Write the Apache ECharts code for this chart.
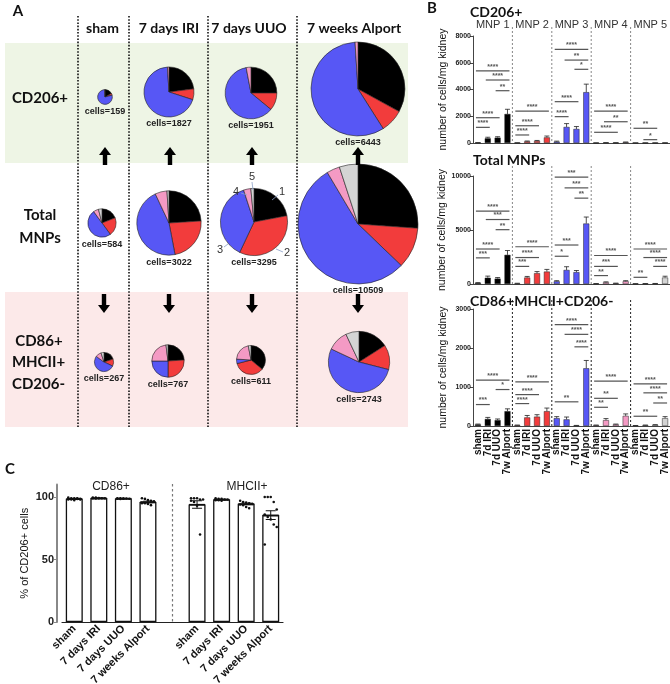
<!DOCTYPE html>
<html><head><meta charset="utf-8">
<script src="https://cdn.jsdelivr.net/npm/echarts@6/dist/echarts.min.js"></script>
<style>html,body{margin:0;padding:0;background:#fff}#c{width:670px;height:684px}</style>
</head><body><div id="c"></div>
<script>
// ---------- Panel A data ----------
const groupsA = ['sham', '7 days IRI', '7 days UUO', '7 weeks Alport'];
const mnpNames = ['MNP 1', 'MNP 2', 'MNP 3', 'MNP 4', 'MNP 5'];
const cellsCD206 = [159, 1827, 1951, 6443];
const cellsTotal = [584, 3022, 3295, 10509];
const cellsCD86 = [267, 767, 611, 2743];
// slice shares (%) MNP1..MNP5 per group
const shareCD206 = [[17, 4, 78, 1, 0], [23, 7, 69, 1, 0], [25, 11, 61, 3, 0], [33, 8, 58, 1, 0]];
const shareTotal = [[19, 21, 50, 6, 4], [24, 23, 46, 6, 1], [22, 35, 38, 3.5, 1.5], [26, 11, 54, 3.5, 5]];
const shareCD86 = [[20, 12, 53, 10, 5], [24, 26, 25, 23, 2], [36, 35, 5, 21, 3], [16, 13, 53, 11, 7]];

// ---------- Panel B data ----------
const catsB = ['sham', '7d IRI', '7d UUO', '7w Alport'];
const cd206Mean = [[20, 350, 400, 2170], [10, 120, 150, 420], [100, 1200, 1050, 3800], [5, 20, 15, 60], [3, 5, 3, 8]];
const cd206Sem = [[10, 80, 70, 350], [5, 30, 40, 100], [40, 250, 180, 600], [3, 5, 5, 15], [2, 2, 2, 3]];
const totalMean = [[100, 580, 500, 2700], [50, 600, 1000, 1150], [250, 1300, 1100, 5600], [30, 150, 60, 250], [20, 30, 40, 600]];
const totalSem = [[30, 150, 100, 400], [20, 100, 150, 200], [60, 300, 150, 600], [10, 50, 20, 60], [10, 10, 10, 120]];
const cd86Mean = [[40, 180, 150, 380], [20, 220, 240, 380], [200, 170, 10, 1480], [20, 150, 40, 260], [10, 20, 30, 200]];
const cd86Sem = [[10, 40, 30, 60], [5, 50, 50, 80], [40, 60, 5, 200], [5, 40, 10, 50], [3, 5, 5, 40]];
// significance: [mnp, fromCat, toCat, y value, label]
const sigCD206 = [
  [0, 0, 3, 5400, '****'], [0, 1, 3, 4710, '****'], [0, 2, 3, 3910, '**'], [0, 0, 2, 1890, '****'], [0, 0, 1, 1170, '****'],
  [1, 0, 3, 2390, '****'], [1, 0, 2, 1290, '****'], [1, 0, 1, 600, '****'],
  [2, 0, 3, 7000, '****'], [2, 1, 3, 6200, '**'], [2, 2, 3, 5510, '*'], [2, 0, 2, 3090, '****'], [2, 0, 1, 1970, '****'],
  [3, 0, 3, 2390, '****'], [3, 1, 3, 1590, '**'], [3, 0, 2, 800, '****'],
  [4, 0, 2, 1100, '**'], [4, 1, 2, 250, '*']
];
const sigTotal = [
  [0, 0, 3, 6750, '****'], [0, 1, 3, 5970, '***'], [0, 2, 3, 5030, '**'], [0, 0, 2, 3240, '****'], [0, 0, 1, 2420, '***'],
  [1, 0, 3, 3450, '****'], [1, 0, 2, 2450, '****'], [1, 0, 1, 1630, '***'],
  [2, 0, 3, 9900, '***'], [2, 1, 3, 8900, '***'], [2, 2, 3, 7950, '**'], [2, 0, 2, 3610, '***'], [2, 0, 1, 2570, '*'],
  [3, 0, 3, 2640, '****'], [3, 0, 2, 1630, '***'], [3, 0, 1, 780, '**'],
  [4, 0, 3, 3240, '****'], [4, 1, 3, 2450, '****'], [4, 2, 3, 1630, '****'], [4, 0, 1, 620, '**']
];
const sigCD86 = [
  [0, 0, 3, 1175, '****'], [0, 2, 3, 935, '*'], [0, 0, 1, 550, '***'],
  [1, 0, 3, 1130, '****'], [1, 0, 2, 805, '****'], [1, 0, 1, 575, '****'],
  [2, 0, 3, 2600, '****'], [2, 1, 3, 2350, '****'], [2, 2, 3, 2030, '****'], [2, 0, 2, 620, '**'],
  [3, 0, 3, 1150, '****'], [3, 0, 2, 710, '**'], [3, 0, 1, 480, '**'],
  [4, 0, 3, 1080, '****'], [4, 1, 3, 850, '****'], [4, 2, 3, 590, '**'], [4, 0, 2, 250, '**']
];

// ---------- Panel C data ----------
const catsC = ['sham', '7 days IRI', '7 days UUO', '7 weeks Alport', '', 'sham', '7 days IRI', '7 days UUO', '7 weeks Alport'];
const cd86Pct = [98.6, 99.1, 98.8, 96.0];
const cd86PctSem = [0.3, 0.1, 0.1, 0.6];
const mhcPct = [94.0, 98.0, 94.5, 85.5];
const mhcPctSem = [3.0, 0.3, 0.6, 3.5];
const cd86Dots = [
  [99.5, 99, 99, 98.5, 98.5, 98, 98, 97.5, 99, 98],
  [99.5, 99.5, 99, 99, 99, 99, 98.8, 99.2],
  [99, 99, 98.8, 98.8, 98.6, 98.6, 98.5, 98.7],
  [99, 98.5, 97.5, 97, 96, 95.5, 95, 94.5, 93.5, 96.5, 95]
];
const mhcDots = [
  [99, 99, 99, 98, 98, 97, 96, 93, 70],
  [99, 98.5, 98.5, 98, 98, 97.5, 97.5, 97],
  [97, 96, 95.5, 95, 94.5, 94, 93.5, 92, 91],
  [100, 100, 100, 96, 90, 86, 84, 82, 78, 76, 62]
];

// ---------- styling ----------
const colorsMNP = ['#000000', '#f23c3c', '#5757f5', '#f49ac4', '#d4d4d4'];
const SANS = 'Liberation Sans, Arial, sans-serif';
const HEAD = 'Lato, Noto Sans, sans-serif';

const chart = echarts.init(document.getElementById('c'), null, {renderer: 'canvas', width: 670, height: 684});

const series = [];
const graphics = [];

// ----- Panel A layout -----
graphics.push({type: 'rect', shape: {x: 5, y: 43, width: 403, height: 120}, style: {fill: '#eef5e5'}, z: -10, silent: true});
graphics.push({type: 'rect', shape: {x: 5, y: 292, width: 403, height: 135}, style: {fill: '#fce9e9'}, z: -10, silent: true});
[78, 129, 208, 297].forEach(x => graphics.push({type: 'line', shape: {x1: x, y1: 16, x2: x, y2: 427},
  style: {stroke: '#111', lineWidth: 1.6, lineDash: [1.6, 1.6]}, z: 1, silent: true}));
const headX = [102.5, 169, 249, 354];
groupsA.forEach((t, i) => graphics.push({type: 'text', x: headX[i], y: 28, style: {text: t, font: 'bold 14px ' + HEAD, fill: '#111', align: 'center', verticalAlign: 'middle'}, z: 10}));
graphics.push({type: 'text', x: 18, y: 11, style: {text: 'A', font: 'bold 15px ' + HEAD, fill: '#111', align: 'center', verticalAlign: 'middle'}, z: 10});
const rowLab = [['CD206+', 40, 98], ['Total', 40, 215], ['MNPs', 40, 238.5], ['CD86+', 39, 341], ['MHCII+', 38.5, 362], ['CD206-', 38.5, 384]];
rowLab.forEach(r => graphics.push({type: 'text', x: r[1], y: r[2], style: {text: r[0], font: 'bold 15px ' + HEAD, fill: '#111', align: 'center', verticalAlign: 'middle'}, z: 10}));

const pieCx = [[105, 169, 251, 358], [102, 169, 254, 358], [104, 168, 251, 359]];
const pieCy = [[97, 92, 93, 89], [223, 223, 222, 224], [362, 361, 360, 362]];
const rowsCells = [cellsCD206, cellsTotal, cellsCD86];
const rowsShare = [shareCD206, shareTotal, shareCD86];
rowsCells.forEach((cells, r) => cells.forEach((n, g) => {
  const rad = 0.585 * Math.sqrt(n);
  const data = [];
  rowsShare[r][g].forEach((v, i) => { if (v > 0) data.push({value: v, name: mnpNames[i], itemStyle: {color: colorsMNP[i]}}); });
  series.push({type: 'pie', center: [pieCx[r][g], pieCy[r][g]], radius: rad, startAngle: 90, clockwise: true,
    label: {show: false}, labelLine: {show: false}, silent: true, avoidLabelOverlap: false, z: 3,
    itemStyle: {borderColor: '#222', borderWidth: 0.6}, data});
  graphics.push({type: 'text', x: pieCx[r][g], y: pieCy[r][g] + rad + 7, style: {text: 'cells=' + n, font: 'bold 9px ' + SANS, fill: '#222', align: 'center', verticalAlign: 'middle'}, z: 10});
}));
// numbered callouts on UUO total pie
const callouts = [['1', 282, 192, 272, 200, 278, 195], ['2', 287, 253, 276, 249, 283, 252], ['3', 220, 250, 224, 247, 228, 244], ['4', 236, 192, 241, 193, 247, 195], ['5', 252, 177, 252, 182, 253, 190]];
callouts.forEach(c => {
  graphics.push({type: 'text', x: c[1], y: c[2], style: {text: c[0], font: '11px ' + SANS, fill: '#333', align: 'center', verticalAlign: 'middle'}, z: 10});
  graphics.push({type: 'line', shape: {x1: c[3], y1: c[4], x2: c[5], y2: c[6]}, style: {stroke: '#8aa0c8', lineWidth: 0.8}, z: 10});
});
// arrows
function arrow(x, yTip, yTail) {
  const dir = yTip < yTail ? 1 : -1, hh = 8, hw = 6, sw = 2.2;
  const yb = yTip + dir * hh;
  return {type: 'polygon', shape: {points: [[x, yTip], [x + hw, yb], [x + sw, yb], [x + sw, yTail], [x - sw, yTail], [x - sw, yb], [x - hw, yb]]}, style: {fill: '#000'}, z: 10, silent: true};
}
[105, 170, 252, 358].forEach(x => graphics.push(arrow(x, 147, 165)));
[104, 169, 252, 358].forEach(x => graphics.push(arrow(x, 313, 294)));

// ----- Panel B -----
const gridsB = [{top: 36, height: 107}, {top: 176, height: 108}, {top: 309, height: 117}];
const BL = 473, BW = 197;
const maxB = [8000, 10000, 3000], intB = [2000, 5000, 1000];
const meansB = [cd206Mean, totalMean, cd86Mean], semsB = [cd206Sem, totalSem, cd86Sem], sigsB = [sigCD206, sigTotal, sigCD86];
const catsB20 = []; for (let m = 0; m < 5; m++) catsB.forEach(c => catsB20.push(c));
const grids = [], xAxes = [], yAxes = [];
gridsB.forEach((gb, gi) => {
  grids.push({left: BL, width: BW, top: gb.top, height: gb.height, outerBoundsMode: 'none'});
  xAxes.push({type: 'category', gridIndex: gi, data: catsB20, axisLine: {lineStyle: {color: '#444', width: 1}}, axisTick: {show: false},
    axisLabel: {show: gi === 2, interval: 0, rotate: 90, fontSize: 10, fontWeight: 'bold', fontFamily: SANS, color: '#111', margin: 3}});
  yAxes.push({type: 'value', gridIndex: gi, min: 0, max: maxB[gi], interval: intB[gi], splitLine: {show: false},
    axisLine: {show: true, lineStyle: {color: '#444', width: 1}}, axisTick: {show: true, length: 3, lineStyle: {color: '#444'}},
    axisLabel: {fontSize: 7, fontWeight: 'bold', fontFamily: SANS, color: '#222', margin: 2, formatter: v => String(v)},
    name: 'number of cells/mg kidney', nameLocation: 'middle', nameGap: 24, nameTextStyle: {fontSize: 10.5, fontFamily: SANS, color: '#111'}});
  const data = [];
  meansB[gi].forEach((arr, m) => arr.forEach(v => data.push({value: v, itemStyle: {color: colorsMNP[m]}})));
  series.push({type: 'bar', xAxisIndex: gi, yAxisIndex: gi, barWidth: 6, silent: true, data, itemStyle: {borderColor: '#222', borderWidth: 0.5}});
  const ed = [];
  meansB[gi].forEach((arr, m) => arr.forEach((v, k) => ed.push([m * 4 + k, v, semsB[gi][m][k]])));
  series.push({type: 'custom', xAxisIndex: gi, yAxisIndex: gi, silent: true, z: 5, data: ed, encode: {x: 0, y: 1},
    renderItem: (p, api) => {
      const x = api.value(0), v = api.value(1), s = api.value(2);
      const t = api.coord([x, v + s]), b = api.coord([x, v]);
      return {type: 'group', children: [
        {type: 'line', shape: {x1: t[0], y1: t[1], x2: b[0], y2: b[1]}, style: {stroke: '#222', lineWidth: 0.8}},
        {type: 'line', shape: {x1: t[0] - 2.5, y1: t[1], x2: t[0] + 2.5, y2: t[1]}, style: {stroke: '#222', lineWidth: 0.8}}]};
    }});
  const sig = sigsB[gi];
  series.push({type: 'custom', xAxisIndex: gi, yAxisIndex: gi, silent: true, z: 6,
    data: sig.map(s => [s[0] * 4 + s[1], s[0] * 4 + s[2], s[3]]), encode: {x: [0, 1], y: 2},
    renderItem: (p, api) => {
      const a = api.coord([api.value(0), api.value(2)]), b = api.coord([api.value(1), api.value(2)]);
      return {type: 'group', children: [
        {type: 'line', shape: {x1: a[0] - 2, y1: a[1], x2: b[0] + 2, y2: b[1]}, style: {stroke: '#555', lineWidth: 1.2}},
        {type: 'text', style: {text: sig[p.dataIndex][4], x: (a[0] + b[0]) / 2, y: a[1] - 0.5, align: 'center', verticalAlign: 'bottom', font: 'bold 7px ' + SANS, fill: '#555'}}]};
    }});
  // separators
  const sepTop = [27, 166, 300][gi];
  for (let k = 1; k < 5; k++) {
    const x = BL + BW * k / 5;
    graphics.push({type: 'line', shape: {x1: x, y1: sepTop, x2: x, y2: gb.top + gb.height}, style: {stroke: gi === 2 ? '#222' : '#888', lineWidth: 1, lineDash: [2, 2]}, silent: true});
  }
});
mnpNames.forEach((t, m) => graphics.push({type: 'text', x: BL + BW * (m + 0.5) / 5, y: 25, style: {text: t, font: '11px ' + SANS, fill: '#333', align: 'center', verticalAlign: 'middle'}}));
graphics.push({type: 'text', x: 432, y: 8, style: {text: 'B', font: 'bold 15px ' + HEAD, fill: '#111', align: 'center', verticalAlign: 'middle'}});
[['CD206+', 470, 12], ['Total MNPs', 473, 160], ['CD86+MHCII+CD206-', 470, 301]].forEach(t =>
  graphics.push({type: 'text', x: t[1], y: t[2], style: {text: t[0], font: 'bold 14px ' + HEAD, fill: '#111', align: 'left', verticalAlign: 'middle'}}));

// ----- Panel C -----
const CL = 62, CW = 221;
grids.push({left: CL, width: CW, top: 484.5, bottom: 62, outerBoundsMode: 'none'});
xAxes.push({type: 'category', gridIndex: 3, data: catsC, axisLine: {lineStyle: {color: '#222', width: 1.2}}, axisTick: {show: false},
  axisLabel: {interval: 0, rotate: 45, fontSize: 11, fontWeight: 'bold', fontFamily: SANS, color: '#111', margin: 5}});
yAxes.push({type: 'value', gridIndex: 3, min: 0, max: 110, interval: 50, offset: 5, splitLine: {show: false},
  axisLine: {show: true, lineStyle: {color: '#888', width: 2}}, axisTick: {show: true, length: 3, lineStyle: {color: '#888'}},
  axisLabel: {fontSize: 11, fontWeight: 'bold', fontFamily: SANS, color: '#222', margin: 3, showMaxLabel: false},
  name: '% of CD206+ cells', nameLocation: 'middle', nameGap: 27, nameTextStyle: {fontSize: 11, fontFamily: SANS, color: '#111'}});
const cBar = cd86Pct.concat([null]).concat(mhcPct);
const cSem = cd86PctSem.concat([null]).concat(mhcPctSem);
series.push({type: 'bar', xAxisIndex: 3, yAxisIndex: 3, barWidth: 17, silent: true, data: cBar,
  itemStyle: {color: '#fff', borderColor: '#111', borderWidth: 1.3}});
series.push({type: 'custom', xAxisIndex: 3, yAxisIndex: 3, silent: true, z: 5,
  data: cBar.map((v, i) => v == null ? null : [i, v, cSem[i]]).filter(d => d), encode: {x: 0, y: 1},
  renderItem: (p, api) => {
    const x = api.value(0), v = api.value(1), s = api.value(2);
    const t = api.coord([x, v + s]), b = api.coord([x, v - s]), m = api.coord([x, v]);
    return {type: 'group', children: [
      {type: 'line', shape: {x1: t[0], y1: t[1], x2: b[0], y2: b[1]}, style: {stroke: '#111', lineWidth: 1}},
      {type: 'line', shape: {x1: t[0] - 5, y1: t[1], x2: t[0] + 5, y2: t[1]}, style: {stroke: '#111', lineWidth: 1}},
      {type: 'line', shape: {x1: b[0] - 5, y1: b[1], x2: b[0] + 5, y2: b[1]}, style: {stroke: '#111', lineWidth: 1}},
      {type: 'line', shape: {x1: m[0] - 8, y1: m[1], x2: m[0] + 8, y2: m[1]}, style: {stroke: '#111', lineWidth: 1.2}}]};
  }});
const dotData = [];
cd86Dots.forEach((arr, b) => arr.forEach((v, j) => dotData.push([b, v, j])));
mhcDots.forEach((arr, b) => arr.forEach((v, j) => dotData.push([b + 5, v, j])));
series.push({type: 'custom', xAxisIndex: 3, yAxisIndex: 3, silent: true, z: 6, data: dotData, encode: {x: 0, y: 1},
  renderItem: (p, api) => {
    const c = api.coord([api.value(0), api.value(1)]);
    const off = ((api.value(2) % 5) - 2) * 3;
    return {type: 'circle', shape: {cx: c[0] + off, cy: c[1], r: 1.3}, style: {fill: '#111'}};
  }});
graphics.push({type: 'line', shape: {x1: CL + CW * 4.5 / 9, y1: 484, x2: CL + CW * 4.5 / 9, y2: 622}, style: {stroke: '#777', lineWidth: 1.2, lineDash: [2.5, 2.5]}, silent: true});
graphics.push({type: 'text', x: 111, y: 487, style: {text: 'CD86+', font: '12px ' + SANS, fill: '#222', align: 'center', verticalAlign: 'middle'}});
graphics.push({type: 'text', x: 247, y: 487, style: {text: 'MHCII+', font: '12px ' + SANS, fill: '#222', align: 'center', verticalAlign: 'middle'}});
graphics.push({type: 'text', x: 10, y: 469, style: {text: 'C', font: 'bold 15px ' + HEAD, fill: '#111', align: 'center', verticalAlign: 'middle'}});

chart.setOption({
  animation: false,
  backgroundColor: '#fff',
  grid: grids, xAxis: xAxes, yAxis: yAxes,
  series,
  graphic: {elements: graphics}
});
</script></body></html>
